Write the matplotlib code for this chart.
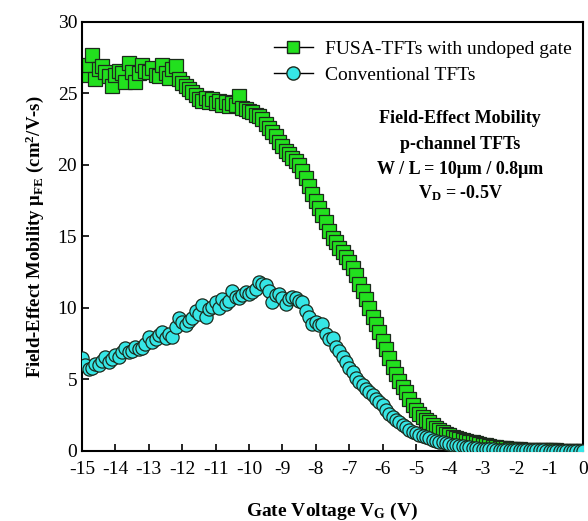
import matplotlib
matplotlib.use("Agg")
import matplotlib.pyplot as plt
from matplotlib.lines import Line2D
import numpy as np

# gate sweep: -15 V .. 0 V, 0.1 V step
V_START, V_STOP, V_STEP = -15.0, 0.0, 0.1
GATE_V = np.round(np.arange(V_START, V_STOP + V_STEP / 2, V_STEP), 1)

# FUSA-TFTs with undoped gate (green squares)
MU_FUSA = [
    26.9, 26.3, 27.0, 27.7, 26.0, 26.7, 26.9, 26.5, 26.2, 25.5,
    26.3, 26.6, 26.4, 25.8, 27.1, 26.5, 25.8, 26.4, 27.0, 26.6,
    26.5, 26.8, 26.3, 26.2, 27.0, 26.4, 26.1, 26.7, 26.9, 26.0,
    25.7, 25.5, 25.3, 25.1, 24.9, 24.6, 24.5, 24.7, 24.4, 24.6,
    24.3, 24.5, 24.2, 24.4, 24.1, 24.3, 24.2, 24.8, 24.0, 23.9,
    23.8, 23.7, 23.5, 23.4, 23.2, 22.9, 22.6, 22.3, 22.0, 21.6,
    21.3, 21.0, 20.8, 20.5, 20.3, 20.0, 19.6, 19.1, 18.5, 18.0,
    17.5, 17.0, 16.5, 16.0, 15.4, 14.9, 14.6, 14.2, 13.9, 13.6,
    13.2, 12.8, 12.3, 11.7, 11.2, 10.6, 10.0, 9.4, 8.9, 8.3,
    7.7, 7.1, 6.5, 5.9, 5.4, 4.9, 4.5, 4.1, 3.6, 3.2,
    2.9, 2.6, 2.4, 2.2, 2.0, 1.8, 1.6, 1.5, 1.35, 1.2,
    1.1, 1.0, 0.9, 0.85, 0.8, 0.7, 0.65, 0.6, 0.55, 0.5,
    0.45, 0.4, 0.35, 0.3, 0.27, 0.24, 0.2, 0.18, 0.16, 0.14,
    0.12, 0.11, 0.10, 0.09, 0.08, 0.07, 0.06, 0.06, 0.05, 0.05,
    0.04, 0.04, 0.04, 0.03, 0.03, 0.03, 0.03, 0.02, 0.02, 0.02,
    0.02,
]

# Conventional TFTs (cyan circles)
MU_CONV = [
    6.5, 6.0, 5.7, 5.8, 6.1, 6.0, 6.3, 6.6, 6.2, 6.4,
    6.7, 6.6, 6.9, 7.2, 6.9, 7.0, 7.3, 7.1, 7.2, 7.5,
    8.0, 7.6, 7.8, 8.1, 8.3, 7.9, 8.2, 8.0, 8.7, 9.3,
    9.0, 8.8, 9.1, 9.3, 9.8, 9.6, 10.2, 9.4, 9.9, 10.1,
    10.4, 10.0, 10.6, 10.3, 10.5, 11.2, 10.8, 10.7, 10.9, 11.1,
    11.0, 11.1, 11.3, 11.8, 11.7, 11.6, 11.2, 10.4, 10.9, 11.0,
    10.7, 10.3, 10.6, 10.8, 10.7, 10.5, 10.4, 9.8, 9.4, 8.9,
    9.0, 8.8, 8.9, 8.2, 7.8, 7.9, 7.3, 7.0, 6.6, 6.2,
    5.8, 5.5, 5.1, 4.8, 4.6, 4.3, 4.1, 3.9, 3.6, 3.4,
    3.2, 2.9, 2.6, 2.4, 2.2, 2.0, 1.85, 1.7, 1.5, 1.35,
    1.25, 1.15, 1.05, 0.95, 0.9, 0.8, 0.72, 0.65, 0.6, 0.55,
    0.5, 0.45, 0.4, 0.36, 0.32, 0.28, 0.25, 0.22, 0.19, 0.17,
    0.15, 0.13, 0.12, 0.11, 0.10, 0.09, 0.08, 0.08, 0.07, 0.07,
    0.06, 0.06, 0.05, 0.05, 0.05, 0.04, 0.04, 0.04, 0.04, 0.03,
    0.03, 0.03, 0.03, 0.03, 0.03, 0.02, 0.02, 0.02, 0.02, 0.02,
    0.02,
]

X_TICKS = list(range(-15, 1))
Y_TICKS = [0, 5, 10, 15, 20, 25, 30]
LABELS = ["FUSA-TFTs with undoped gate", "Conventional TFTs"]
NOTE_LINES = ["Field-Effect Mobility", "p-channel TFTs",
              "W / L = 10μm / 0.8μm", r"V$_{\rm D}$ = -0.5V"]

GREEN = "#22e01e"
CYAN = "#36e6e6"
EDGE = "#1c2a1c"

plt.rcParams.update({
    "font.family": "Liberation Serif",
    "mathtext.fontset": "custom",
    "mathtext.rm": "Liberation Serif:bold",
    "mathtext.it": "Liberation Serif:bold",
    "mathtext.bf": "Liberation Serif:bold",
    "axes.unicode_minus": False,
    "axes.linewidth": 1.5,
})

fig = plt.figure(figsize=(5.88, 5.21), dpi=100)
ax = fig.add_axes([0.1395, 0.1344, 0.852, 0.8234])

ax.plot(GATE_V, MU_FUSA, linestyle="-", color="black", linewidth=0.8,
        marker="s", markersize=9.5, markerfacecolor=GREEN,
        markeredgecolor=EDGE, markeredgewidth=0.9, zorder=2)
ax.plot(GATE_V, MU_CONV, linestyle="-", color="black", linewidth=0.8,
        marker="o", markersize=9.5, markerfacecolor=CYAN,
        markeredgecolor=EDGE, markeredgewidth=0.9, zorder=3)

ax.set_xlim(-15, 0)
ax.set_ylim(0, 30)
ax.set_xticks(X_TICKS)
ax.set_yticks(Y_TICKS)
ax.tick_params(direction="in", length=5, width=1.2, labelsize=14,
               top=False, right=False)
ax.tick_params(axis="x", pad=7)

ax.set_xlabel(r"Gate Voltage V$_{\rm G}$ (V)", fontsize=14,
              fontweight="bold", labelpad=17)
ax.set_ylabel(r"Field-Effect Mobility μ$_{\rm FE}$ (cm$^{\rm 2}$/V-s)",
              fontsize=13.5, fontweight="bold", labelpad=8)

handles = [
    Line2D([], [], color="black", linewidth=1.0, marker="s", markersize=9,
           markerfacecolor=GREEN, markeredgecolor=EDGE),
    Line2D([], [], color="black", linewidth=1.0, marker="o", markersize=9.5,
           markerfacecolor=CYAN, markeredgecolor=EDGE),
]
ax.legend(handles, LABELS, loc="upper right", frameon=False, fontsize=14,
          handlelength=2.0, handletextpad=0.6, labelspacing=0.45,
          borderaxespad=0.2, bbox_to_anchor=(1.0, 0.985))

note_y = [0.775, 0.714, 0.656, 0.602]
for txt, yy in zip(NOTE_LINES, note_y):
    ax.text(0.755, yy, txt, transform=ax.transAxes, ha="center",
            va="center", fontsize=13, fontweight="bold")

fig.savefig("out.png", dpi=100)
